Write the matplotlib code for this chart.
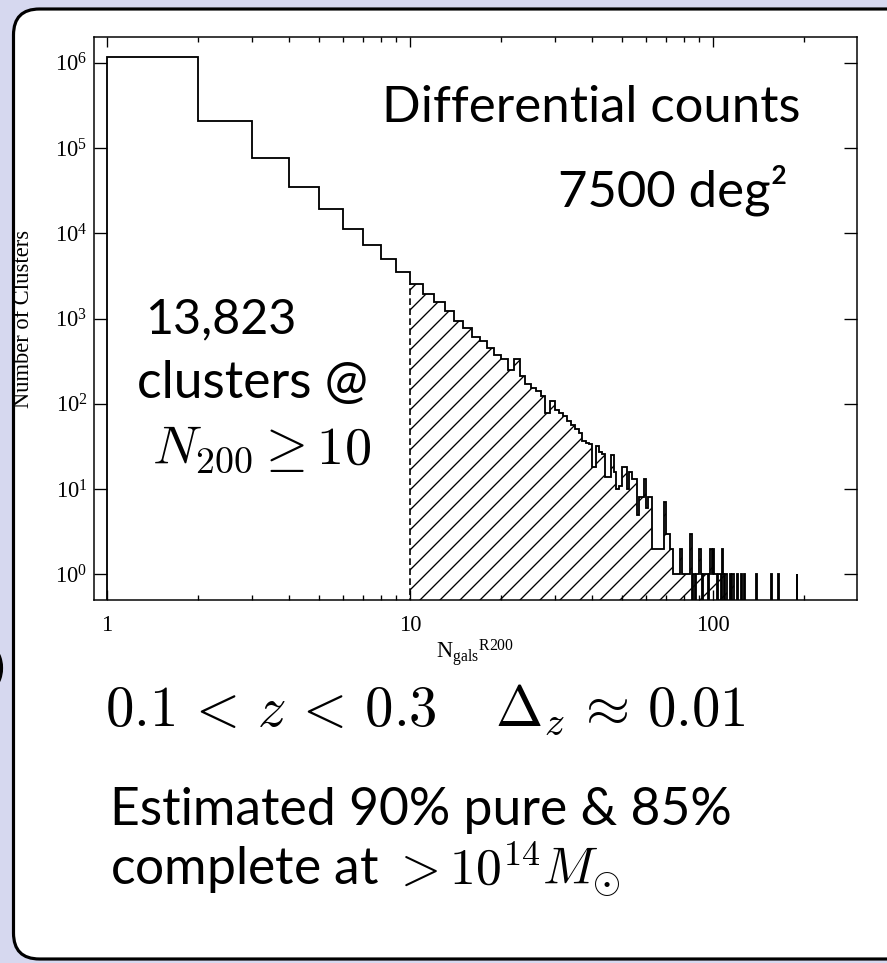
import numpy as np
import matplotlib
matplotlib.use("Agg")
import matplotlib.pyplot as plt
from matplotlib.patches import FancyBboxPatch, Arc
from matplotlib.ticker import FixedLocator, LogLocator, NullLocator, NullFormatter, FixedFormatter

# counts per unit-width bin [n, n+1) of N_gals^R200
low_n      = [1, 2, 3, 4, 5, 6, 7, 8, 9]
low_counts = [1150000, 207000, 76000, 35000, 19000, 11100, 7300, 5000, 3500]

mid_start  = 10
mid_counts = [2560, 1960, 1560, 1225, 935, 780, 605, 545, 445, 370,
              335, 250, 335, 210, 170, 152, 140, 122, 78, 107,
              84, 78, 71, 63, 56, 50, 46, 37, 35, 34,
              18, 32, 27, 26, 14, 14, 25, 16, 10, 11,
              18, 18, 10, 16, 13, 13, 5, 8, 8, 13,
              6, 8, 8, 2, 2, 2, 2, 2, 2, 7,
              3, 3, 2, 2, 1, 1, 1, 1, 2, 1,
              1, 1, 1, 1, 3]

# sparse tail: only the non-empty bins
tail_n      = [86, 88, 89, 90, 91, 93, 94, 95, 97, 98, 99, 100, 101, 102,
               104, 105, 107, 108, 110, 114, 116, 120, 124, 127, 139, 156, 164, 189]
tail_counts = [1, 1, 1, 2, 1, 1, 1, 1, 1, 2, 1, 2, 1, 1,
               1, 1, 2, 1, 1, 1, 1, 1, 1, 1, 1, 1, 1, 1]

x_ticks  = [1, 10, 100]
x_labels = ["1", "10", "100"]
y_ticks  = [1e0, 1e1, 1e2, 1e3, 1e4, 1e5, 1e6]
y_labels = [r"$\mathdefault{10^{%d}}$" % k for k in range(7)]

cut = 10  # N200 >= 10 selection

# assemble the histogram
n_max  = max(tail_n)
edges  = np.arange(1, n_max + 2)
counts = np.zeros(n_max)
counts[:len(low_counts)] = low_counts
counts[mid_start - 1:mid_start - 1 + len(mid_counts)] = mid_counts
for n, c in zip(tail_n, tail_counts):
    counts[n - 1] = c
floor = 1e-2
plot_counts = np.where(counts > 0, counts, floor)

plt.rcParams["font.family"] = ["Liberation Serif", "DejaVu Serif"]
plt.rcParams["mathtext.fontset"] = "stix"
plt.rcParams["hatch.linewidth"] = 0.8

W, H, DPI = 887, 963, 120
fig = plt.figure(figsize=(W / DPI, H / DPI), dpi=DPI, facecolor="#d6d8ef")

# slide panel, in pixel coordinates
bg = fig.add_axes([0, 0, 1, 1], zorder=0)
bg.set_xlim(0, W)
bg.set_ylim(H, 0)
bg.axis("off")
bg.add_patch(FancyBboxPatch((13.5, 9), 1000, 950,
                            boxstyle="round,pad=0,rounding_size=26",
                            facecolor="white", edgecolor="black", lw=1.9))
# bit of the neighbouring slide element poking in at the left edge
bg.add_patch(Arc((-8, 668), 18, 36, theta1=-90, theta2=90, color="black", lw=2.5))

# histogram axes
ax = fig.add_axes([94 / W, 1 - 600 / H, (857 - 94) / W, (600 - 37) / H], zorder=1)
ax.set_facecolor("none")
ax.set_xscale("log")
ax.set_yscale("log")

sel = slice(cut - 1, None)
ax.stairs(plot_counts[sel], edges[cut - 1:], baseline=floor, fill=True,
          facecolor="none", edgecolor="black", hatch="//", lw=0, zorder=1)
ax.stairs(plot_counts, edges, baseline=floor, color="black", lw=1.1, zorder=2)
ax.vlines(cut, floor, counts[cut - 1], colors="black", linestyles=(0, (4, 2)), lw=1.0, zorder=2)

ax.set_xlim(0.905, 299)
ax.set_ylim(0.5, 2e6)

ax.xaxis.set_major_locator(FixedLocator(x_ticks))
ax.xaxis.set_major_formatter(FixedFormatter(x_labels))
ax.xaxis.set_minor_locator(LogLocator(base=10, subs=np.arange(2, 10)))
ax.xaxis.set_minor_formatter(NullFormatter())
ax.yaxis.set_major_locator(FixedLocator(y_ticks))
ax.yaxis.set_major_formatter(FixedFormatter(y_labels))
ax.yaxis.set_minor_locator(NullLocator())

ax.tick_params(axis="both", which="both", direction="in", top=True, right=True,
               width=0.8, labelsize=13.5, colors="black")
ax.tick_params(axis="x", which="major", length=6, pad=9)
ax.tick_params(axis="x", which="minor", length=3)
ax.tick_params(axis="y", which="major", length=8, pad=4)
for s in ax.spines.values():
    s.set_linewidth(0.9)

ax.set_ylabel("Number of Clusters", fontsize=13.5)
ax.yaxis.set_label_coords(-0.079, 0.5)
ax.set_xlabel(r"$\mathdefault{N_{gals}{}^{R200}}$", fontsize=13.5)
ax.xaxis.set_label_coords(0.5, -0.066)

# annotations (pixel coordinates on the panel)
sans = "Lato"
bg.text(800, 122, "Differential counts", family=sans, fontsize=30.5, ha="right", va="baseline")
bg.text(788, 207, "7500 deg²", family=sans, fontsize=30.5, ha="right", va="baseline")
bg.text(145, 333, "13,823", family=sans, fontsize=29, ha="left", va="baseline")
bg.text(137, 398, "clusters @", family=sans, fontsize=31, ha="left", va="baseline")
bg.text(152, 463, r"$N_{200} \geq 10$", fontsize=32.5, math_fontfamily="cm",
        ha="left", va="baseline")
bg.text(105, 725, r"$0.1 \,<\, z \,<\, 0.3 \quad\, \Delta_z \,\approx\, 0.01$", fontsize=34,
        math_fontfamily="cm", ha="left", va="baseline")
bg.text(110, 825, "Estimated 90% pure & 85%", family=sans, fontsize=31,
        ha="left", va="baseline")
bg.text(110, 885, r"complete at $> 10^{14}M_{\odot}$", family=sans, fontsize=31,
        math_fontfamily="cm", ha="left", va="baseline")

fig.savefig("out.png", dpi=DPI, facecolor=fig.get_facecolor())
